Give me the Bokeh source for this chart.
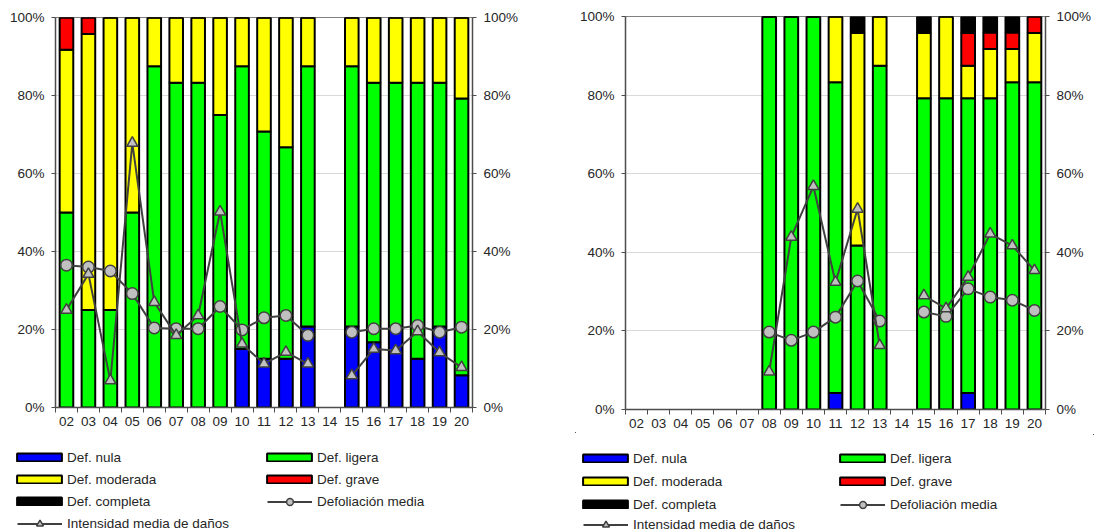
import numpy as np
from bokeh.plotting import figure
from bokeh.models import (ColumnDataSource, LinearAxis, FixedTicker, PrintfTickFormatter,
                          Range1d, Legend, LegendItem)
from bokeh.layouts import row, column
from bokeh.embed import file_html
from bokeh.resources import INLINE

nan = np.nan
years = ["02", "03", "04", "05", "06", "07", "08", "09", "10", "11",
         "12", "13", "14", "15", "16", "17", "18", "19", "20"]

# ---- left chart (percent of trees per defoliation class) ----
L_nula = [0, 0, 0, 0, 0, 0, 0, 0, 15, 12.5, 12.5, 20.8, nan, 20.8, 16.7, 20.8, 12.5, 20.8, 8.3]
L_ligera = [50, 25, 25, 50, 87.5, 83.3, 83.3, 75, 72.5, 58.3, 54.2, 66.7, nan, 66.7, 66.6, 62.5, 70.8, 62.5, 70.9]
L_moderada = [41.7, 70.8, 75, 50, 12.5, 16.7, 16.7, 25, 12.5, 29.2, 33.3, 12.5, nan, 12.5, 16.7, 16.7, 16.7, 16.7, 20.8]
L_grave = [8.3, 4.2, 0, 0, 0, 0, 0, 0, 0, 0, 0, 0, nan, 0, 0, 0, 0, 0, 0]
L_completa = [0, 0, 0, 0, 0, 0, 0, 0, 0, 0, 0, 0, nan, 0, 0, 0, 0, 0, 0]
L_defol = [36.5, 36, 35, 29.2, 20.4, 20.2, 20.2, 25.9, 19.9, 23, 23.6, 18.5, nan, 19.3, 20.2, 20.2, 21, 19.3, 20.6]
L_inten = [25, 34.2, 6.9, 67.8, 27, 18.5, 23.6, 50.2, 16.3, 11.2, 14.2, 11.2, nan, 8.2, 15, 14.6, 19.5, 14.1, 10.3]

# ---- right chart ----
R_nula = [nan, nan, nan, nan, nan, nan, 0, 0, 0, 4.2, 0, 0, nan, 0, 0, 4.2, 0, 0, 0]
R_ligera = [nan, nan, nan, nan, nan, nan, 100, 100, 100, 79.1, 41.7, 87.5, nan, 79.2, 79.2, 75, 79.2, 83.3, 83.3]
R_moderada = [nan, nan, nan, nan, nan, nan, 0, 0, 0, 16.7, 54.1, 12.5, nan, 16.6, 20.8, 8.3, 12.5, 8.4, 12.5]
R_grave = [nan, nan, nan, nan, nan, nan, 0, 0, 0, 0, 0, 0, nan, 0, 0, 8.3, 4.2, 4.2, 4.2]
R_completa = [nan, nan, nan, nan, nan, nan, 0, 0, 0, 0, 4.2, 0, nan, 4.2, 0, 4.2, 4.2, 4.2, 0]
R_defol = [nan, nan, nan, nan, nan, nan, 19.7, 17.6, 19.7, 23.5, 32.7, 22.5, nan, 24.8, 23.7, 30.7, 28.6, 27.8, 25.2]
R_inten = [nan, nan, nan, nan, nan, nan, 9.6, 43.9, 56.8, 32.4, 51, 16.3, nan, 29, 25.7, 33.7, 44.7, 41.7, 35.4]

classes = ["Def. nula", "Def. ligera", "Def. moderada", "Def. grave", "Def. completa"]
class_colors = ["#0000FF", "#00FF00", "#FFFF00", "#FF0000", "#000000"]
line_labels = ["Defoliación media", "Intensidad media de daños"]
y_ticks = [0, 20, 40, 60, 80, 100]

FONT = "Liberation Sans"
TXT = "#262626"
AX = "#4d4d4d"
LINE = "#404040"
MARK = "#c0c0c0"


def style_y(ax, size, standoff):
    ax.ticker = FixedTicker(ticks=y_ticks)
    ax.formatter = PrintfTickFormatter(format="%d%%")
    ax.major_tick_in = 0
    ax.major_tick_out = 4
    ax.minor_tick_line_color = None
    ax.major_tick_line_color = AX
    ax.axis_line_color = AX
    ax.axis_line_width = 1.5
    ax.major_label_text_font = FONT
    ax.major_label_text_font_size = size
    ax.major_label_text_color = TXT
    ax.major_label_standoff = standoff


def make_chart(data, W, H, bl, br, bt, bb):
    nula, ligera, moderada, grave, completa, defol, inten = data
    xs = list(range(len(years)))
    src = ColumnDataSource(dict(
        x=xs,
        nula=np.array(nula, dtype=float), ligera=np.array(ligera, dtype=float),
        moderada=np.array(moderada, dtype=float), grave=np.array(grave, dtype=float),
        completa=np.array(completa, dtype=float),
        defol=np.array(defol, dtype=float), inten=np.array(inten, dtype=float)))
    p = figure(width=W, height=H, x_range=Range1d(-0.5, len(years) - 0.5),
               y_range=Range1d(0, 100), output_backend="svg", toolbar_location=None,
               min_border_left=bl, min_border_right=br, min_border_top=bt,
               min_border_bottom=bb)
    p.background_fill_color = "white"
    p.border_fill_color = "white"
    p.outline_line_color = "#808080"
    p.outline_line_width = 1
    p.xgrid.visible = False
    p.ygrid.ticker = FixedTicker(ticks=y_ticks)
    p.ygrid.grid_line_color = "#d9d9d9"
    p.ygrid.grid_line_width = 1

    p.vbar_stack(["nula", "ligera", "moderada", "grave", "completa"], x="x",
                 width=0.62, fill_color=class_colors, line_color="black",
                 line_width=2, source=src)
    p.line("x", "defol", source=src, line_color=LINE, line_width=2)
    p.scatter("x", "defol", source=src, marker="circle", size=11.5,
              fill_color=MARK, line_color=LINE, line_width=1.5)
    p.line("x", "inten", source=src, line_color=LINE, line_width=2)
    p.scatter("x", "inten", source=src, marker="triangle", size=11,
              fill_color=MARK, line_color=LINE, line_width=1.5)

    xa = p.xaxis[0]
    xa.ticker = FixedTicker(ticks=xs, minor_ticks=[i - 0.5 for i in range(len(years) + 1)])
    xa.major_label_overrides = {i: y for i, y in enumerate(years)}
    xa.major_tick_line_color = None
    xa.major_tick_in = 0
    xa.major_tick_out = 4
    xa.minor_tick_in = 0
    xa.minor_tick_out = 5
    xa.minor_tick_line_color = AX
    xa.axis_line_color = AX
    xa.axis_line_width = 1.5
    xa.major_label_text_font = FONT
    xa.major_label_text_font_size = "13.5px"
    xa.major_label_text_color = TXT
    xa.major_label_standoff = 4

    style_y(p.yaxis[0], "13.5px", 7)
    ra = LinearAxis()
    style_y(ra, "13.5px", 7)
    p.add_layout(ra, "right")
    return p


def _legend(items, loc, gw, gh, standoff, label_w, spacing, ncols):
    return Legend(items=items, ncols=ncols, orientation="horizontal", location=loc,
                  glyph_width=gw, glyph_height=gh, label_standoff=standoff,
                  label_width=label_w, label_height=18, spacing=spacing,
                  padding=0, margin=0, border_line_color=None,
                  background_fill_alpha=0,
                  label_text_font=FONT, label_text_font_size="13.5px",
                  label_text_color=TXT)


def make_legend_fig(W, H, sx1, col_dx, label_w, spacing, yA, yC):
    lf = figure(width=W, height=H, x_range=Range1d(0, 1), y_range=Range1d(0, 1),
                output_backend="svg", toolbar_location=None, min_border=0,
                x_axis_type=None, y_axis_type=None)
    lf.outline_line_color = None
    lf.grid.visible = False
    bars = [lf.vbar(x=[5], top=[5], bottom=[4], width=0.5, fill_color=c,
                    line_color="black", line_width=2) for c in class_colors]
    l1 = lf.line(x=[5, 6], y=[5, 5], line_color=LINE, line_width=2)
    m1 = lf.scatter(x=[5], y=[5], marker="circle", size=7, fill_color=MARK,
                    line_color=LINE, line_width=1.5)
    l2 = lf.line(x=[5, 6], y=[5, 5], line_color=LINE, line_width=2)
    m2 = lf.scatter(x=[5], y=[5], marker="triangle", size=7, fill_color=MARK,
                    line_color=LINE, line_width=1.5)
    bar_items = [LegendItem(label=c, renderers=[b]) for c, b in zip(classes, bars)]
    # bar swatches are drawn at 80% of the glyph box, so widen the box a little
    legA = _legend(bar_items, (sx1 - 6, yA), 56, 10, 0, label_w, spacing, 2)
    legB = _legend([LegendItem(label=line_labels[0], renderers=[l1, m1])],
                   (sx1 + col_dx, yA), 45, 17, 5, 100, spacing, 1)
    legC = _legend([LegendItem(label=line_labels[1], renderers=[l2, m2])],
                   (sx1, yC), 45, 17, 5, 100, spacing, 1)
    for lg in (legA, legB, legC):
        lf.add_layout(lg, "center")
    return lf


pL = make_chart([L_nula, L_ligera, L_moderada, L_grave, L_completa, L_defol, L_inten],
                576, 432, 55, 104, 17, 25)
pR = make_chart([R_nula, R_ligera, R_moderada, R_grave, R_completa, R_defol, R_inten],
                518, 434, 47, 49, 16, 25)
lgL = make_legend_fig(576, 99, 17, 250, 190, 4, 21, -1)
lgR = make_legend_fig(518, 97, 7, 257, 196, 5, 18, -2)

layout = row(column(pL, row(lgL), spacing=0), column(pR, row(lgR), spacing=0), spacing=0)

open("out.html", "w").write(file_html(layout, INLINE))
